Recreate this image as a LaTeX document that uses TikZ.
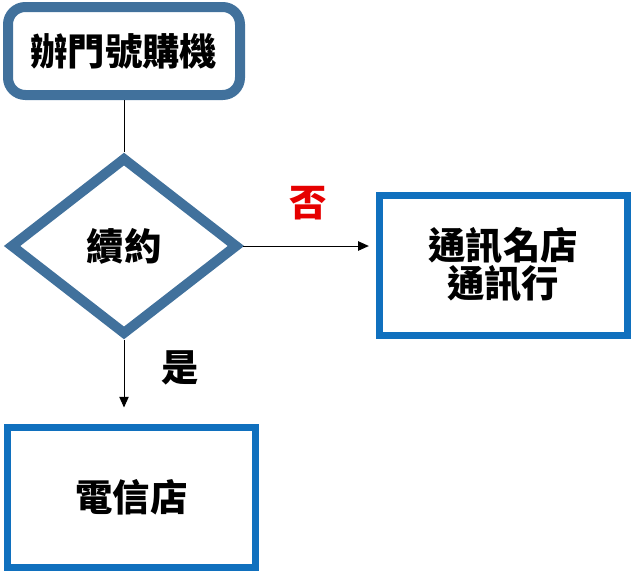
\documentclass[tikz,border=0pt]{standalone}
\usepackage{xcolor}
\usepackage{fontspec}
\usepackage{tikz}
\usetikzlibrary{shapes.geometric,arrows.meta}
\setmainfont{Noto Sans CJK TC}
\definecolor{slateblue}{RGB}{65,113,156}
\definecolor{boxblue}{RGB}{16,112,190}
\definecolor{nored}{RGB}{230,0,0}

\begin{document}
\begin{tikzpicture}[x=.75pt, y=-.75pt,
    every node/.style={font=\fontsize{28pt}{28.5pt}\selectfont\bfseries},
    startbox/.style={draw=slateblue, line width=7.5pt, rounded corners=13pt,
        minimum width=174pt, minimum height=66pt, inner sep=0pt},
    askbox/.style={draw=slateblue, line width=7.5pt, diamond, aspect=1.28,
        minimum width=171pt, minimum height=133.5pt, inner sep=0pt},
    shopbox/.style={draw=boxblue, line width=5.25pt,
        minimum width=186pt, minimum height=105pt, inner sep=0pt, align=center},
    link/.style={line width=.75pt},
    tip/.style={-{Triangle[length=8pt,width=7pt]}}]
             \useasboundingbox (0,0) rectangle (632,571);

             \node[startbox] (buy) at (124, 51) {辦門號購機};
             \node[askbox] (renew) at (124, 246) {續約};
             \node[shopbox] (chain) at (503, 265) {通訊名店\\通訊行};
             \node[shopbox] (telco) at (131.5, 497) {電信店};

             \node[text=nored] (no) at (308, 203) {否};
             \node (yes) at (180, 368) {是};

             \draw[link] (buy) -- (renew);
             \draw[link, tip, shorten >=5pt] (renew.east) -- (renew.east -| chain.west);
             \draw[link, tip, shorten >=12pt] (renew.south) -- (renew.south |- telco.north);

             \end{tikzpicture}
\end{document}
